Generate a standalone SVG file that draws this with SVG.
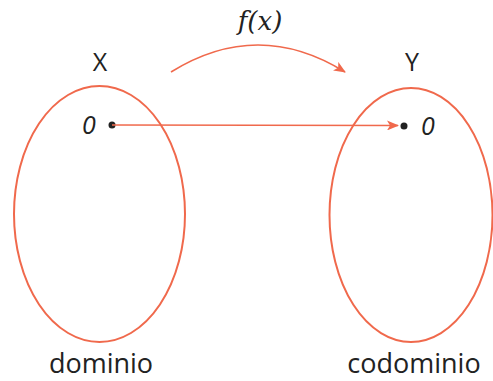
<svg xmlns="http://www.w3.org/2000/svg" width="493" height="381" viewBox="0 0 493 381">
<style>
.set{fill:none;stroke:#f0694c;stroke-width:2}
.conn{fill:none;stroke:#f0694c;stroke-width:1.6}
.lbl{font-family:"Open Sans","Noto Sans",sans-serif;fill:#222;text-anchor:middle}
.zero{font-family:"Open Sans","Noto Sans",sans-serif;font-style:italic;fill:#222;font-size:25px;text-anchor:middle}
.fx{font-family:"DejaVu Serif","Liberation Serif",serif;font-style:italic;font-size:26px;fill:#222;text-anchor:middle}
</style>
<defs>
<marker id="ah" viewBox="0 0 12 10" refX="11" refY="5" markerWidth="12" markerHeight="10" markerUnits="userSpaceOnUse" orient="auto">
<path d="M0,0 L12,5 L0,10 L3,5 Z" fill="#f0694c"/>
</marker>
</defs>
<g id="domain">
<ellipse class="set" cx="99.5" cy="214" rx="85.5" ry="128"/>
<text class="lbl" x="100" y="71" font-size="25">X</text>
<text class="lbl" x="101" y="373" font-size="27">dominio</text>
<circle cx="112" cy="125" r="3.5" fill="#222"/>
<text class="zero" x="89" y="134">0</text>
</g>
<g id="codomain">
<ellipse class="set" cx="411" cy="215" rx="81.5" ry="127"/>
<text class="lbl" x="412" y="71" font-size="25">Y</text>
<text class="lbl" x="414" y="373" font-size="27">codominio</text>
<circle cx="404" cy="126" r="3.5" fill="#222"/>
<text class="zero" x="428" y="135">0</text>
</g>
<g id="connectors">
<path class="conn" d="M112,125 L398,125.5" marker-end="url(#ah)"/>
<path class="conn" d="M171,72 Q258,18 345,72" marker-end="url(#ah)"/>
<text class="fx" x="260" y="30">f(x)</text>
</g>
</svg>
